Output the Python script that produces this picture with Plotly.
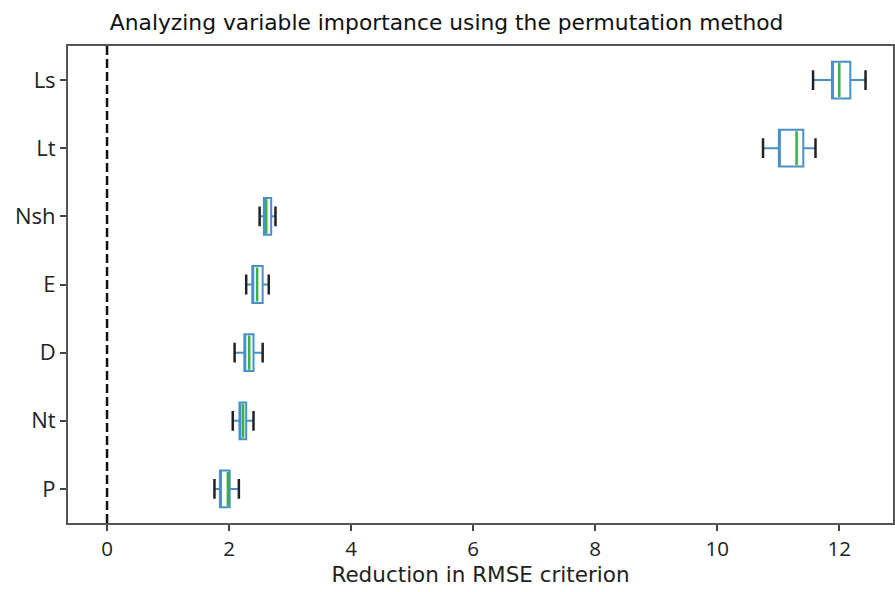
import plotly.graph_objects as go

categories = ["Ls", "Lt", "Nsh", "E", "D", "Nt", "P"]
lower_whisker = [11.57, 10.75, 2.50, 2.28, 2.09, 2.06, 1.76]
q1_values = [11.88, 11.01, 2.57, 2.38, 2.25, 2.17, 1.85]
median_values = [12.00, 11.30, 2.61, 2.46, 2.33, 2.23, 1.98]
q3_values = [12.18, 11.41, 2.69, 2.55, 2.40, 2.28, 2.01]
upper_whisker = [12.43, 11.61, 2.76, 2.65, 2.55, 2.40, 2.16]
x_ticks = [0, 2, 4, 6, 8, 10, 12]

FONT = "Open Sans"
WIDE = "DejaVu Sans"
BLUE = "#4a90c8"
GREEN = "#3cb043"

fig = go.Figure()

# main boxes with whiskers
fig.add_trace(go.Box(
    y=categories, q1=q1_values, median=q1_values, q3=q3_values,
    lowerfence=lower_whisker, upperfence=upper_whisker,
    orientation="h", width=0.54, whiskerwidth=0,
    line=dict(color=BLUE, width=2), fillcolor="rgba(0,0,0,0)",
    boxpoints=False, hoverinfo="skip", showlegend=False,
))
# median lines
fig.add_trace(go.Box(
    y=categories, q1=median_values, median=median_values, q3=median_values,
    lowerfence=median_values, upperfence=median_values,
    orientation="h", width=0.50, whiskerwidth=0,
    line=dict(color=GREEN, width=2.5), fillcolor="rgba(0,0,0,0)",
    boxpoints=False, hoverinfo="skip", showlegend=False,
))
# caps
for cap in (lower_whisker, upper_whisker):
    fig.add_trace(go.Box(
        y=categories, q1=cap, median=cap, q3=cap,
        lowerfence=cap, upperfence=cap,
        orientation="h", width=0.29, whiskerwidth=0,
        line=dict(color="#222222", width=2.5), fillcolor="rgba(0,0,0,0)",
        boxpoints=False, hoverinfo="skip", showlegend=False,
    ))

fig.add_shape(type="line", xref="x", yref="paper", x0=0, x1=0, y0=0, y1=1,
              line=dict(color="#111111", width=2.5, dash="9px,4px"), layer="below")

fig.update_layout(
    width=895, height=592,
    margin=dict(l=68, r=0, t=46, b=69),
    plot_bgcolor="white", paper_bgcolor="white",
    boxmode="overlay",
    font=dict(family=FONT, color="#222222", size=20),
    title=dict(text="Analyzing variable importance using the permutation method",
               x=0.499, xref="container", xanchor="center", y=0.962, yanchor="middle",
               font=dict(family=WIDE, size=21.8, color="#111111")),
)
fig.update_xaxes(
    range=[-0.64, 12.88], tickvals=x_ticks, ticktext=[str(v) for v in x_ticks],
    ticks="outside", ticklen=6, tickwidth=1.5, tickcolor="#444444",
    showline=True, linecolor="#555555", linewidth=2, mirror=True,
    showgrid=False, zeroline=False,
    title=dict(text="Reduction in RMSE criterion", font=dict(family=WIDE, size=21.5), standoff=6),
    tickfont=dict(size=20.5),
)
fig.update_yaxes(
    type="category", categoryorder="array", categoryarray=categories[::-1],
    range=[-0.5, 6.5],
    ticks="outside", ticklen=6, tickwidth=1.5, tickcolor="#444444",
    showline=True, linecolor="#555555", linewidth=2, mirror=True,
    showgrid=False, zeroline=False, tickfont=dict(size=22),
)

fig.write_html("out.html")
